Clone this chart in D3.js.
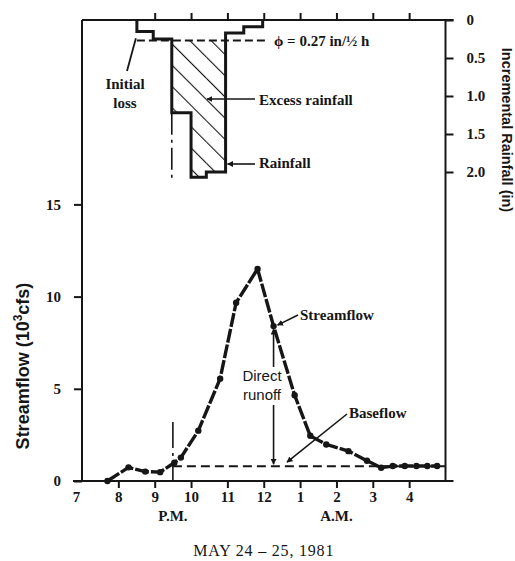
<!DOCTYPE html>
<html>
<head>
<meta charset="utf-8">
<script src="https://cdn.jsdelivr.net/npm/d3@7"></script>
<style>
  html, body { margin: 0; padding: 0; background: #ffffff; }
  svg { display: block; }
</style>
</head>
<body>
<svg id="chart" width="515" height="561"></svg>
<script>
// ---------------- data (time in decimal hours; 12 = midnight, 13 = 1 A.M.) ----------------
const hourTicks = [7, 8, 9, 10, 11, 12, 13, 14, 15, 16];
const hourLabels = ["7", "8", "9", "10", "11", "12", "1", "2", "3", "4"];
const flowTicks = [0, 5, 10, 15];
const rainTicks = [0, 0.5, 1.0, 1.5, 2.0];

// rainfall hyetograph: interval boundaries and incremental depths (in)
const rainBounds = [8.51, 8.96, 9.47, 10.0, 10.42, 10.95, 11.45, 11.97];
const rainDepth  = [0.15, 0.25, 1.22, 2.07, 2.0, 0.17, 0.09];
const phiIndex = 0.27;          // in per 1/2 h
const excessStart = 9.47;        // beginning of rainfall excess

// streamflow hydrograph (10^3 cfs)
const flowTime  = [7.70, 8.28, 8.74, 9.15, 9.54, 9.72, 10.2, 10.8, 11.24, 11.83, 12.27, 12.85, 13.28, 13.72, 14.33, 14.84, 15.23, 15.55, 15.88, 16.2, 16.5, 16.77];
const flowValue = [0.0, 0.74, 0.51, 0.48, 0.99, 1.27, 2.73, 5.55, 9.67, 11.5, 8.4, 4.65, 2.45, 1.98, 1.62, 1.1, 0.72, 0.81, 0.81, 0.81, 0.81, 0.81];
const baseflow = 0.8;
const baseStart = 9.5, baseEnd = 17;

// ---------------- drawing ----------------
const svg = d3.select("#chart");
const ink = "#161616";
const serif = "'Liberation Serif', 'DejaVu Serif', serif";
const sans = "'Liberation Sans', Arial, sans-serif";

const x = d3.scaleLinear().domain([7, 17]).range([82, 445.5]);
const yFlow = d3.scaleLinear().domain([0, 25]).range([481, 20]);
const yRain = d3.scaleLinear().domain([0, 2]).range([20, 172]);

const defs = svg.append("defs");
defs.append("pattern")
  .attr("id", "hatch").attr("patternUnits", "userSpaceOnUse")
  .attr("width", 15).attr("height", 15)
  .attr("patternTransform", "rotate(-45)")
  .append("line").attr("x1", 0).attr("y1", -2).attr("x2", 0).attr("y2", 17)
  .attr("stroke", ink).attr("stroke-width", 2.2);
defs.append("marker")
  .attr("id", "arrow").attr("viewBox", "0 0 10 10")
  .attr("refX", 9).attr("refY", 5).attr("markerWidth", 6).attr("markerHeight", 6)
  .attr("markerUnits", "userSpaceOnUse")
  .attr("orient", "auto")
  .append("path").attr("d", "M0,0 L10,5 L0,10 Z").attr("fill", ink);

// ---- axes ----
const xb = svg.append("g").attr("transform", `translate(0,${yFlow(0)})`)
  .call(d3.axisBottom(x).tickValues(hourTicks).tickSize(7).tickPadding(3)
    .tickFormat((d, i) => hourLabels[i]));
xb.select(".domain").remove();
xb.selectAll(".tick line").attr("stroke", ink).attr("stroke-width", 2)
  .filter(d => d === 7).remove();
xb.selectAll(".tick text").attr("font-family", serif).attr("font-weight", "bold")
  .attr("font-size", 15).attr("fill", ink)
  .attr("dx", d => d === 7 ? -6 : 0);

const xt = svg.append("g").attr("transform", `translate(0,${yFlow(25)})`)
  .call(d3.axisTop(x).tickValues(hourTicks.filter(d => d >= 9)).tickSize(7).tickFormat(""));
xt.select(".domain").remove();
xt.selectAll(".tick line").attr("stroke", ink).attr("stroke-width", 2);

const yl = svg.append("g").attr("transform", `translate(${x(7)},0)`)
  .call(d3.axisLeft(yFlow).tickValues(flowTicks).tickSize(8).tickPadding(13));
yl.select(".domain").remove();
yl.selectAll(".tick line").attr("stroke", ink).attr("stroke-width", 2);
yl.selectAll(".tick text").attr("font-family", serif).attr("font-weight", "bold")
  .attr("font-size", 15).attr("fill", ink);

const yr = svg.append("g").attr("transform", `translate(${x(17)},0)`)
  .call(d3.axisRight(yRain).tickValues(rainTicks).tickSize(8).tickPadding(13)
    .tickFormat(d => d === 0 ? "0" : d3.format(".1f")(d)));
yr.select(".domain").remove();
yr.selectAll(".tick line").attr("stroke", ink).attr("stroke-width", 2);
yr.selectAll(".tick text").attr("font-family", serif).attr("font-weight", "bold")
  .attr("font-size", 15).attr("fill", ink);

// frame lines
const frame = svg.append("g").attr("stroke", ink).attr("stroke-width", 2).attr("fill", "none");
frame.append("line").attr("x1", x(7)).attr("x2", x(7)).attr("y1", yFlow(25)).attr("y2", yFlow(0));
frame.append("line").attr("x1", x(17)).attr("x2", x(17)).attr("y1", yFlow(25)).attr("y2", yFlow(0));
frame.append("line").attr("x1", x(7)).attr("x2", x(17) + 8).attr("y1", yFlow(25)).attr("y2", yFlow(25));
frame.append("line").attr("x1", x(7) - 9).attr("x2", x(17) + 8).attr("y1", yFlow(0)).attr("y2", yFlow(0));

// ---- rainfall excess (hatched) ----
const excess = rainDepth.map((d, i) => ({t0: rainBounds[i], t1: rainBounds[i + 1], d}))
  .filter(r => r.d > phiIndex);
svg.append("g").selectAll("rect").data(excess).join("rect")
  .attr("x", r => x(r.t0)).attr("width", r => x(r.t1) - x(r.t0))
  .attr("y", yRain(phiIndex)).attr("height", r => yRain(r.d) - yRain(phiIndex))
  .attr("fill", "url(#hatch)");

// ---- rainfall outline ----
const rainPts = [{t: rainBounds[0], d: 0}]
  .concat(rainDepth.map((d, i) => ({t: rainBounds[i], d})))
  .concat([{t: rainBounds[rainBounds.length - 1], d: 0}]);
svg.append("path")
  .attr("d", d3.line().x(p => x(p.t)).y(p => yRain(p.d)).curve(d3.curveStepAfter)(rainPts))
  .attr("fill", "none").attr("stroke", ink).attr("stroke-width", 3);

// phi index line
svg.append("line")
  .attr("x1", x(rainBounds[0])).attr("x2", x(11.98) + 5)
  .attr("y1", yRain(phiIndex)).attr("y2", yRain(phiIndex))
  .attr("stroke", ink).attr("stroke-width", 2).attr("stroke-dasharray", "8,4");

// dash-dot markers of start of excess
svg.append("line")
  .attr("x1", x(excessStart)).attr("x2", x(excessStart))
  .attr("y1", yRain(rainDepth[2])).attr("y2", yRain(2.1))
  .attr("stroke", ink).attr("stroke-width", 1.6).attr("stroke-dasharray", "22,5,3,5");
svg.append("line")
  .attr("x1", x(baseStart)).attr("x2", x(baseStart))
  .attr("y1", yFlow(3.2)).attr("y2", yFlow(0))
  .attr("stroke", ink).attr("stroke-width", 1.6).attr("stroke-dasharray", "26,5,3,5");

// ---- baseflow ----
svg.append("line")
  .attr("x1", x(baseStart)).attr("x2", x(baseEnd))
  .attr("y1", yFlow(baseflow)).attr("y2", yFlow(baseflow))
  .attr("stroke", ink).attr("stroke-width", 2).attr("stroke-dasharray", "9,5");

// ---- streamflow ----
const flow = flowTime.map((t, i) => ({t, v: flowValue[i]}));
svg.append("path")
  .attr("d", d3.line().x(p => x(p.t)).y(p => yFlow(p.v))(flow))
  .attr("fill", "none").attr("stroke", ink).attr("stroke-width", 3.4)
  .attr("stroke-dasharray", "14,2").attr("stroke-linejoin", "round");
svg.append("g").selectAll("circle").data(flow).join("circle")
  .attr("cx", p => x(p.t)).attr("cy", p => yFlow(p.v)).attr("r", 3.2)
  .attr("fill", ink);

// ---- annotations ----
function label(txt, px, py, opts = {}) {
  return svg.append("text").attr("x", px).attr("y", py)
    .attr("font-family", opts.family || serif)
    .attr("font-weight", opts.weight || "bold")
    .attr("font-size", opts.size || 15)
    .attr("text-anchor", opts.anchor || "start")
    .attr("letter-spacing", opts.spacing || 0)
    .attr("fill", ink).text(txt);
}
function pointer(x1, y1, x2, y2, arrow = true, w = 1.6) {
  const l = svg.append("line").attr("x1", x1).attr("y1", y1).attr("x2", x2).attr("y2", y2)
    .attr("stroke", ink).attr("stroke-width", w);
  if (arrow) l.attr("marker-end", "url(#arrow)");
}

// initial loss
label("Initial", 125, 89, {anchor: "middle"});
label("loss", 125, 108, {anchor: "middle"});
pointer(127, 71, x(rainBounds[0]) - 1, yRain(0.24), false, 1.8);

// phi label
label("ϕ = 0.27 in/½ h", 274, 46);

// excess rainfall and rainfall
label("Excess rainfall", 259, 105);
pointer(255, 99, 207, 99);
label("Rainfall", 259, 168);
pointer(255, 164, x(rainBounds[5]) + 2, 164);

// streamflow label
label("Streamflow", 300, 320);
pointer(298, 315, x(12.27) + 4, yFlow(8.4) - 1);

// direct runoff
label("Direct", 262, 381, {family: sans, weight: "normal", anchor: "middle"});
label("runoff", 262, 400, {family: sans, weight: "normal", anchor: "middle"});
pointer(x(12.27), 367, x(12.27), yFlow(8.4) + 3);
pointer(x(12.27), 405, x(12.27), yFlow(baseflow) - 2);

// baseflow label
label("Baseflow", 349, 418);
pointer(347, 414, 287, yFlow(baseflow) - 4);

// axis titles
svg.append("text")
  .attr("transform", `translate(29,${366}) rotate(-90)`)
  .attr("text-anchor", "middle").attr("font-family", sans).attr("font-weight", "bold")
  .attr("font-size", 18).attr("fill", ink)
  .html("Streamflow (10<tspan dy='-7' font-size='12'>3</tspan><tspan dy='7'>cfs)</tspan>");
svg.append("text")
  .attr("transform", `translate(502,${130}) rotate(90)`)
  .attr("text-anchor", "middle").attr("font-family", sans).attr("font-weight", "bold")
  .attr("font-size", 14.5).attr("fill", ink)
  .text("Incremental Rainfall (in)");

label("P.M.", x(9.5), 521, {anchor: "middle"});
label("A.M.", x(14), 521, {anchor: "middle"});
label("MAY  24 – 25,  1981", x(12), 556, {anchor: "middle", weight: "normal", size: 16, spacing: 0.8});
</script>
</body>
</html>
